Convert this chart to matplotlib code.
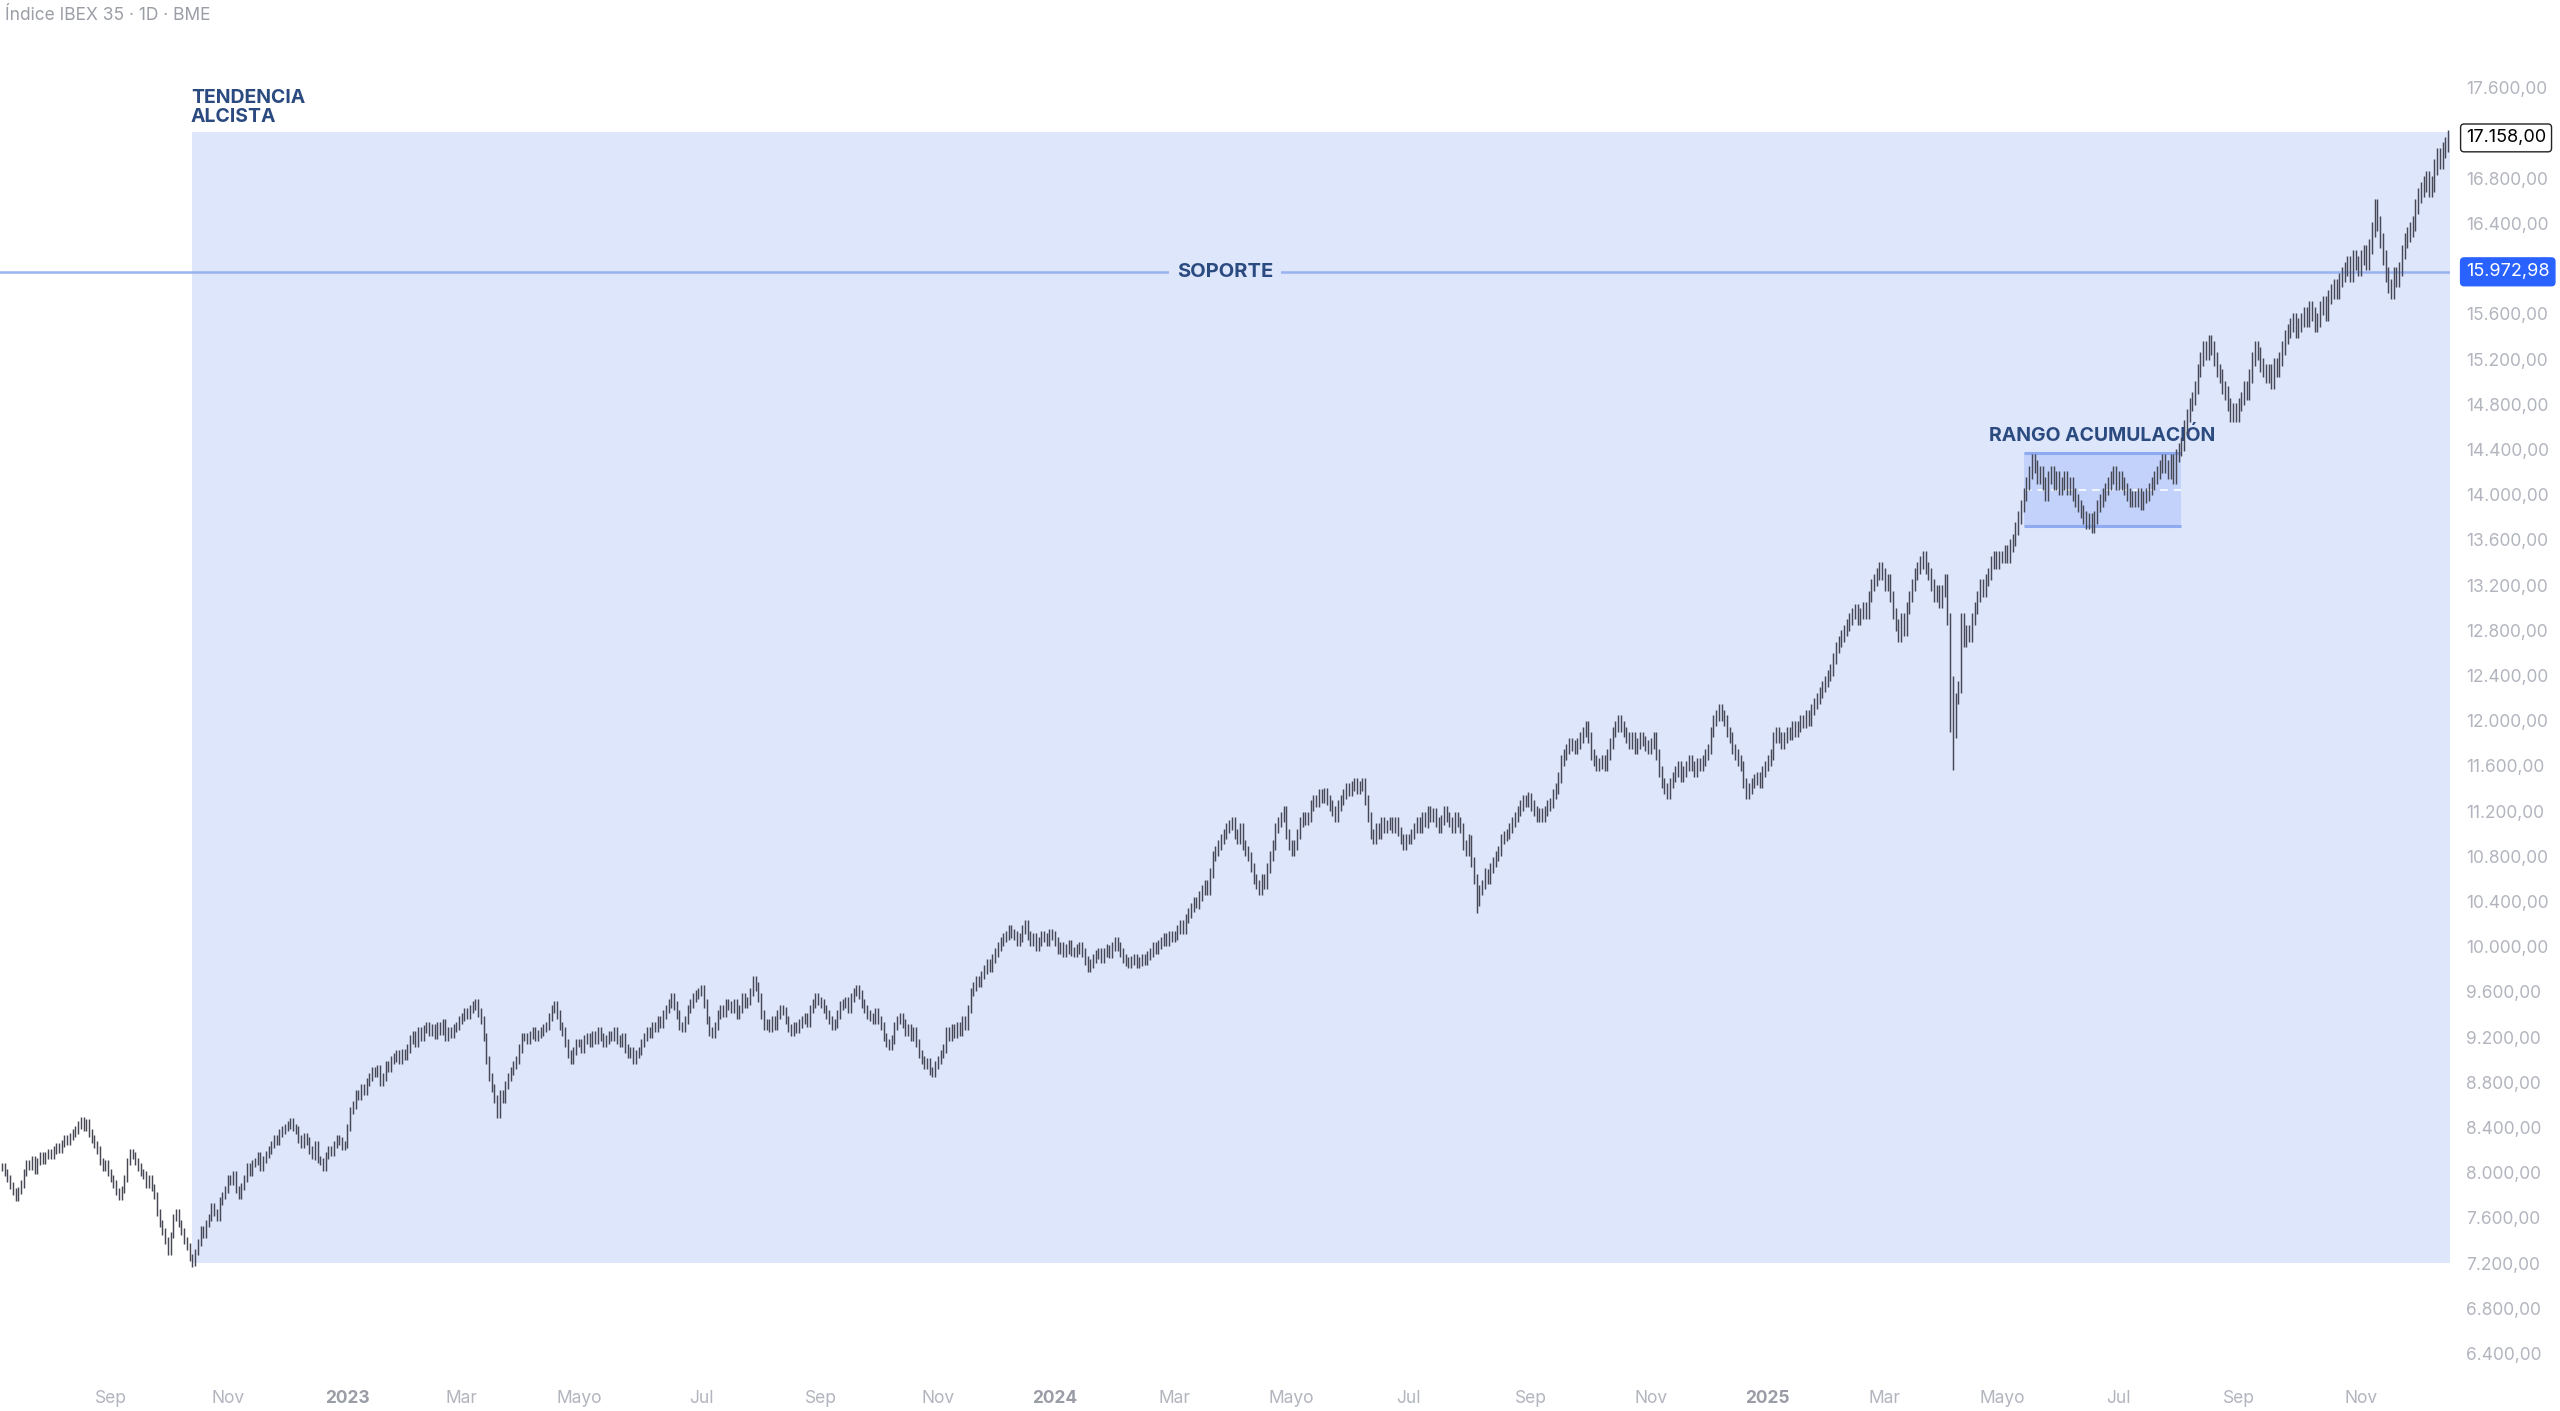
import pandas as pd
import matplotlib
matplotlib.use('Agg')
import matplotlib.pyplot as plt
from matplotlib.patches import Rectangle
from matplotlib.transforms import blended_transform_factory

plt.rcParams['font.family'] = ['Inter', 'DejaVu Sans']

# --- data (daily closes) ---
start_date = '2022-07-07'

closes_2022 = [
    8050, 8000, 7950, 7890, 7830, 7780, 7840, 7900, 8000, 8080, 8060, 8120, 8020, 8100, 8150, 8110, 8150,
    8180, 8150, 8200, 8230, 8210, 8260, 8300, 8280, 8320, 8350, 8380, 8420, 8460, 8400, 8440, 8350, 8300, 8250, 8200, 8100, 8050, 8080, 8000,
    7950, 7900, 7830, 7790, 7850, 7950, 8100, 8180, 8150, 8100, 8050, 8000, 7980, 7900, 7950, 7870, 7800, 7650, 7550, 7480, 7400, 7300,
    7450, 7600, 7650, 7550, 7480, 7400, 7350, 7250, 7200, 7300, 7380, 7500, 7450, 7550, 7600, 7700, 7650, 7600, 7750, 7800, 7850,
    7950, 7920, 7980, 7850, 7800, 7880, 7950, 8050, 8000, 8080, 8100, 8150, 8050, 8120, 8160, 8200, 8250, 8300, 8280, 8350, 8380, 8400,
    8420, 8450, 8400, 8380, 8300, 8250, 8320, 8280, 8200, 8150, 8250, 8120, 8100, 8050, 8150, 8200, 8180, 8250, 8300, 8280, 8230, 8250,
]
closes_2023 = [
    8400, 8550, 8600, 8700, 8680, 8750, 8720, 8800, 8850, 8900, 8880, 8920, 8800, 8850, 8950, 8930, 9000, 9020, 9050, 9000, 9060, 9030,
    9100, 9180, 9220, 9150, 9250, 9200, 9270, 9300, 9250, 9280, 9220, 9300, 9260, 9320, 9200, 9250, 9230, 9280, 9300, 9350,
    9380, 9420, 9400, 9450, 9480, 9500, 9420, 9350, 9200, 9000, 8850, 8750, 8650, 8520, 8700, 8650, 8780, 8850, 8900, 8950, 9000, 9100, 9200,
    9200, 9180, 9220, 9250, 9200, 9230, 9250, 9280, 9300, 9380, 9450, 9480, 9400, 9300, 9250, 9150, 9050, 9000, 9080, 9150,
    9150, 9100, 9180, 9200, 9150, 9220, 9180, 9250, 9200, 9150, 9180, 9220, 9200, 9250, 9180, 9150, 9200, 9100, 9050, 9080, 9000, 9050, 9080,
    9150, 9200, 9250, 9230, 9300, 9280, 9350, 9320, 9400, 9450, 9500, 9550, 9480, 9400, 9300, 9280, 9350, 9450, 9500, 9550, 9580, 9600,
    9620, 9500, 9350, 9250, 9230, 9300, 9400, 9450, 9420, 9500, 9480, 9450, 9500, 9400, 9450, 9550, 9500, 9520, 9600, 9700, 9650,
    9550, 9400, 9300, 9320, 9280, 9350, 9300, 9400, 9450, 9430, 9350, 9280, 9250, 9300, 9270, 9320, 9350, 9380, 9330, 9450, 9500, 9550, 9520,
    9500, 9450, 9400, 9350, 9300, 9320, 9400, 9480, 9500, 9520, 9450, 9550, 9600, 9620, 9580, 9500, 9450, 9400, 9380, 9350, 9420,
    9350, 9300, 9200, 9150, 9120, 9180, 9300, 9350, 9380, 9320, 9250, 9280, 9200, 9250, 9150, 9050, 9000, 8950, 8980, 8900, 8880, 8950,
    9000, 9050, 9100, 9250, 9200, 9280, 9230, 9300, 9250, 9350, 9300, 9450, 9600, 9650, 9700, 9680, 9750, 9800, 9850, 9820, 9900, 9950,
    10000, 10050, 10080, 10100, 10150, 10120, 10100, 10050, 10080, 10150, 10200, 10100, 10050, 10080, 10000, 10050, 10100, 10080, 10050, 10120, 10100,
]
closes_2024 = [
    10050, 9980, 10000, 9950, 9980, 10020, 9960, 9950, 9980, 10000, 9950, 9880, 9820, 9850, 9900, 9930, 9950, 9900, 9950, 9980, 9940, 10000, 10050,
    10000, 9950, 9900, 9870, 9850, 9880, 9900, 9850, 9870, 9900, 9880, 9920, 9950, 10000, 9980, 10020, 10050, 10080, 10050, 10100, 10080,
    10100, 10150, 10200, 10150, 10250, 10300, 10350, 10400, 10380, 10450, 10500, 10550, 10500, 10650, 10800, 10850, 10900, 10950, 11000, 11050, 11080,
    11100, 11000, 10950, 11050, 10900, 10850, 10800, 10700, 10600, 10550, 10500, 10600, 10550, 10700, 10800, 10900, 11050, 11100, 11150, 11200, 11000, 10900,
    10850, 10900, 11000, 11100, 11150, 11120, 11150, 11250, 11300, 11280, 11350, 11320, 11360, 11300, 11250, 11200, 11150, 11250, 11300, 11350, 11400, 11380, 11420,
    11450, 11400, 11420, 11450, 11300, 11150, 11000, 10950, 11050, 11000, 11100, 11050, 11080, 11100, 11050, 11100, 11020, 10950, 10900, 10950,
    10950, 11000, 11050, 11100, 11050, 11150, 11100, 11200, 11150, 11180, 11100, 11050, 11120, 11200, 11150, 11100, 11050, 11150, 11100, 11050, 10900, 10850, 10950,
    10750, 10600, 10400, 10500, 10550, 10650, 10600, 10700, 10750, 10800, 10850, 10950, 10980, 11000, 11050, 11100, 11150, 11200, 11250, 11300, 11280, 11320,
    11250, 11200, 11150, 11180, 11150, 11200, 11250, 11270, 11350, 11400, 11500, 11650, 11700, 11750, 11800, 11780, 11750, 11800, 11850, 11900, 11950,
    11850, 11700, 11650, 11600, 11620, 11650, 11600, 11700, 11800, 11900, 11950, 12000, 11950, 11900, 11850, 11800, 11850, 11750, 11800, 11850, 11820, 11780, 11750,
    11800, 11850, 11700, 11550, 11450, 11400, 11350, 11450, 11500, 11550, 11600, 11500, 11550, 11600, 11650, 11600, 11550, 11620, 11600, 11650, 11700,
    11750, 11900, 12000, 12050, 12100, 12050, 12000, 11900, 11850, 11750, 11700, 11650, 11600, 11450, 11350, 11400, 11450, 11480, 11500, 11450, 11550, 11600,
]
closes_2025 = [
    11650, 11700, 11850, 11900, 11850, 11800, 11850, 11900, 11880, 11950, 11900, 11950, 12000, 11980, 12050, 12000, 12100, 12150, 12200, 12250, 12300, 12350, 12400,
    12450, 12550, 12650, 12700, 12750, 12800, 12850, 12900, 12950, 12980, 12900, 12950, 13000, 12950, 13100, 13200, 13250, 13300, 13350, 13300,
    13200, 13250, 13100, 12950, 12850, 12750, 12900, 12800, 13000, 13100, 13200, 13300, 13350, 13400, 13450, 13350, 13300, 13200, 13100, 13150, 13050,
    13150, 13250, 12900, 12350, 11900, 12200, 12300, 12900, 12700, 12800, 12750, 12900, 13000, 13100, 13200, 13150, 13250, 13300, 13400, 13450, 13400, 13450,
    13450, 13500, 13450, 13550, 13600, 13700, 13800, 13900, 14000, 14100, 14200, 14300, 14250, 14150, 14200, 14100, 14000, 14150, 14200, 14100, 14150, 14050,
    14100, 14150, 14050, 14100, 14000, 13950, 13900, 13850, 13800, 13750, 13780, 13720, 13800, 13900, 13950, 14000, 14050, 14100, 14150, 14200, 14100,
    14150, 14100, 14050, 14000, 13950, 13980, 13950, 14000, 13920, 13980, 14000, 14050, 14100, 14150, 14200, 14250, 14300, 14250, 14200, 14300, 14150, 14350, 14400,
    14450, 14600, 14700, 14800, 14850, 14950, 15100, 15200, 15300, 15250, 15350, 15300, 15200, 15100, 15050, 14950, 14900, 14800, 14700, 14750, 14700,
    14800, 14850, 14950, 14900, 15050, 15200, 15300, 15250, 15150, 15100, 15050, 15100, 15000, 15150, 15100, 15200, 15300, 15400, 15450, 15500, 15550, 15450,
    15500, 15550, 15600, 15550, 15650, 15600, 15500, 15550, 15650, 15700, 15600, 15750, 15800, 15850, 15800, 15900, 15950, 16000, 16050, 15950, 16100, 16050, 16000,
    16100, 16150, 16050, 16200, 16350, 16550, 16400, 16250, 16100, 15950, 15850, 15800, 15950, 15900, 16000, 16150, 16250, 16300, 16350, 16400,
    16550, 16650, 16700, 16750, 16800, 16700, 16750, 16900, 17000, 16950, 17050, 17100, 17158,
]

# intraday extremes on the crash days
spike_lows = {'2022-10-13': 7170, '2023-03-20': 8490, '2024-08-05': 10300,
              '2025-04-04': 11900, '2025-04-07': 11560}

tick_months = ['2022-09', '2022-11', '2023-01', '2023-03', '2023-05', '2023-07', '2023-09',
               '2023-11', '2024-01', '2024-03', '2024-05', '2024-07', '2024-09', '2024-11',
               '2025-01', '2025-03', '2025-05', '2025-07', '2025-09', '2025-11']
tick_labels = ['Sep', 'Nov', '2023', 'Mar', 'Mayo', 'Jul', 'Sep', 'Nov', '2024', 'Mar',
               'Mayo', 'Jul', 'Sep', 'Nov', '2025', 'Mar', 'Mayo', 'Jul', 'Sep', 'Nov']
price_ticks = [6400, 6800, 7200, 7600, 8000, 8400, 8800, 9200, 9600, 10000, 10400, 10800,
               11200, 11600, 12000, 12400, 12800, 13200, 13600, 14000, 14400, 14800,
               15200, 15600, 16000, 16400, 16800, 17200, 17600]

trend_start = '2022-10-13'
trend_low, trend_high = 7200, 17210
support = 15972.98
last_price = 17158.00
range_start, range_end = '2025-05-13', '2025-08-01'
range_low, range_high = 13720, 14370


def es_fmt(v):
    s = f'{v:,.2f}'
    return s.replace(',', 'X').replace('.', ',').replace('X', '.')


closes = closes_2022 + closes_2023 + closes_2024 + closes_2025
dates = pd.bdate_range(start_date, periods=len(closes))
date_idx = {d.strftime('%Y-%m-%d'): i for i, d in enumerate(dates)}
opens = [closes[0]] + closes[:-1]

highs, lows = [], []
for d, o, c in zip(dates, opens, closes):
    w = c * 0.004
    lo = min(o, c) - w
    key = d.strftime('%Y-%m-%d')
    if key in spike_lows:
        lo = min(lo, spike_lows[key])
    highs.append(max(o, c) + w)
    lows.append(lo)

fig = plt.figure(figsize=(25.6, 14.11), dpi=100)
ax = fig.add_axes([0, 36 / 1411, 2450 / 2560, 1345 / 1411])
n = len(closes)
ax.set_xlim(-0.7, n - 0.3)
ax.set_ylim(6210, 18113)

band_col = '#dee6fc'
navy = '#2b4a80'

# tendencia alcista band
x0 = date_idx[trend_start]
ax.add_patch(Rectangle((x0, trend_low), n - 0.3 - x0, trend_high - trend_low,
                       facecolor=band_col, edgecolor='none', zorder=0))
ax.annotate('TENDENCIA\nALCISTA', xy=(x0 - 0.5, trend_high), xytext=(0, 4),
            textcoords='offset points', color=navy, fontsize=14,
            fontweight='bold', ha='left', va='bottom', linespacing=1.1)

# rango de acumulacion
r0, r1 = date_idx[range_start], date_idx[range_end]
ax.add_patch(Rectangle((r0, range_low), r1 - r0, range_high - range_low,
                       facecolor='#5b86f2', alpha=0.2, edgecolor='none', zorder=1))
ax.hlines([range_low, range_high], r0, r1, color='#8eaaf0', lw=2.2, zorder=1.5)
ax.hlines((range_low + range_high) / 2, r0, r1, color='white', lw=1.4,
          linestyles=(0, (4, 3)), alpha=0.8, zorder=1.5)
ax.annotate('RANGO ACUMULACIÓN', xy=((r0 + r1) / 2, range_high), xytext=(0, 6),
            textcoords='offset points', ha='center', va='bottom', color=navy,
            fontsize=14, fontweight='bold')

# soporte
ax.axhline(support, color='#98b3ef', lw=1.8, zorder=1.6)
ax.text(0.5, support, 'SOPORTE', transform=blended_transform_factory(ax.transAxes, ax.transData),
        ha='center', va='center', color=navy, fontsize=14.5, fontweight='bold', zorder=2,
        bbox=dict(boxstyle='square,pad=0.4', facecolor=band_col, edgecolor='none'))

# OHLC bars
ax.vlines(range(n), lows, highs, color='#464955', lw=1.05, zorder=3)

# axes styling
for s in ax.spines.values():
    s.set_visible(False)
ax.yaxis.tick_right()
ax.set_yticks(price_ticks)
ax.set_yticklabels([es_fmt(v) for v in price_ticks])
ax.tick_params(axis='y', length=0, pad=11.5, labelsize=12.5, labelcolor='#b2b5be')

tick_pos = [int(dates.searchsorted(pd.Timestamp(m + '-01'))) for m in tick_months]
ax.set_xticks(tick_pos)
ax.set_xticklabels(tick_labels)
ax.tick_params(axis='x', length=0, pad=11, labelsize=12.5, labelcolor='#b2b5be')
for lab in ax.get_xticklabels():
    if lab.get_text().isdigit():
        lab.set_fontweight('bold')
        lab.set_color('#9a9da6')

# price labels on the scale
tr = blended_transform_factory(ax.transAxes, ax.transData)
lbl_x = 1.0 + 16 / 2450
ax.text(lbl_x, last_price, es_fmt(last_price), transform=tr, ha='left', va='center',
        fontsize=13, color='black', clip_on=False, zorder=5,
        bbox=dict(boxstyle='round,pad=0.3,rounding_size=0.2', facecolor='white',
                  edgecolor='#222222', lw=1.0))
ax.text(lbl_x, support, es_fmt(support), transform=tr, ha='left', va='center',
        fontsize=13, color='white', clip_on=False, zorder=5,
        bbox=dict(boxstyle='round,pad=0.3,rounding_size=0.2', facecolor='#2962ff',
                  edgecolor='#2962ff', lw=1.0))

fig.text(5 / 2560, 1 - 16 / 1411, 'Índice IBEX 35 · 1D · BME', fontsize=12.5,
         color='#9b9ea6', ha='left', va='center')

fig.savefig('out.png', dpi=100, facecolor='white')
